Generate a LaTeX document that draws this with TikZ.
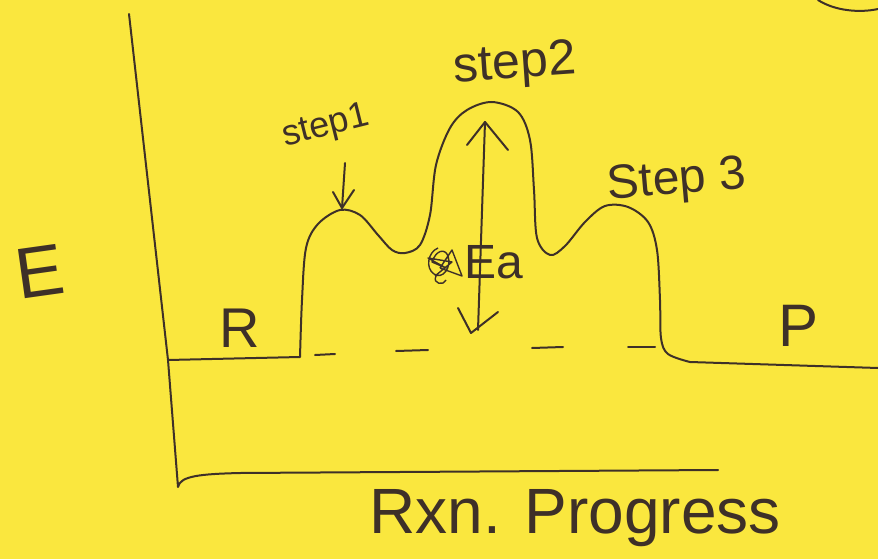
\documentclass[tikz,border=0pt]{standalone}
\usepackage{fontspec}
\setmainfont{Liberation Sans}
\definecolor{paper}{RGB}{250,231,62}
\definecolor{ink}{RGB}{62,48,40}
\tikzset{
  pen/.style={draw=ink, line width=2pt, line cap=round, line join=round},
  lbl/.style={text=ink, inner sep=0pt},
}
\begin{document}
\begin{tikzpicture}[x=1pt,y=-1pt]
\fill[paper] (0,0) rectangle (878,559);
\useasboundingbox (0,0) rectangle (878,559);
% axes
\coordinate (ytop) at (129,14);
\coordinate (origin) at (178,487);
\coordinate (xend) at (718,470);
\draw[pen] (ytop) -- (168,360) -- (origin) .. controls (180,476) and (200,474) .. (240,473) -- (xend);
% energy curve
\coordinate (start) at (168,360);
\coordinate (end) at (878,368);
\draw[pen] (start) -- (300,357)
  plot[smooth, tension=0.55] coordinates {(300,357) (302,300) (306,248) (318,224) (340,210) (360,215) (378,235) (392,250) (405,253) (420,245) (430,215) (436,165) (450,128) (467,110) (492,102) (518,112) (530,140) (534,190) (537,238) (550,255) (565,246) (585,222) (605,206) (628,207) (648,222) (657,250) (660,300) (661,338) (668,354) (690,362)}
  -- (end);
% dashed reactant level
\draw[pen] (315,355) -- (335,354);
\draw[pen] (396,351) -- (428,350);
\draw[pen] (532,348) -- (563,347);
\draw[pen] (628,347) -- (655,347);
% Ea arrow
\coordinate (eatop) at (485,122);
\coordinate (eabot) at (478,330);
\draw[pen] (eabot) -- (eatop);
\draw[pen] (467,145) -- (eatop) -- (508,150);
\draw[pen] (458,308) -- (471,333) -- (498,312);
% step1 arrow
\coordinate (s1a) at (345,163);
\coordinate (s1b) at (342,208);
\draw[pen] (s1a) -- (s1b);
\draw[pen] (333,192) -- (s1b) -- (354,190);
% scribbled-out mark left of Ea
\draw[draw=ink, line width=1.4pt, line join=round]
  (438,248) .. controls (428,252) and (425,268) .. (434,274)
  .. controls (442,280) and (452,268) .. (448,256)
  .. controls (445,248) and (436,250) .. (432,262)
  -- (446,268) -- (428,258) -- (452,262) -- (435,276)
  (440,268) -- (462,276) -- (452,250) -- (440,268)
  (436,276) .. controls (432,284) and (444,286) .. (446,280);
% top-right fragment
\draw[pen] (818,0) .. controls (835,11) and (860,13) .. (878,9);
% labels
\node[lbl, font=\fontsize{72}{72}\selectfont, rotate=8] (E) at (40,272) {E};
\node[lbl, font=\fontsize{56}{56}\selectfont] (R) at (240,328) {R};
\node[lbl, font=\fontsize{60}{60}\selectfont] (P) at (798,326) {P};
\node[lbl, font=\fontsize{36}{36}\selectfont, rotate=14] (s1) at (326,127) {step1};
\node[lbl, font=\fontsize{50}{50}\selectfont, rotate=4] (s2) at (515,66) {step2};
\node[lbl, font=\fontsize{48}{48}\selectfont, rotate=5] (s3) at (677,182) {Step 3};
\node[lbl, font=\fontsize{48}{48}\selectfont] (ea) at (494,262) {Ea};
\node[lbl, font=\fontsize{64}{64}\selectfont] (xl) at (575,518) {Rxn. Progress};
\end{tikzpicture}
\end{document}
